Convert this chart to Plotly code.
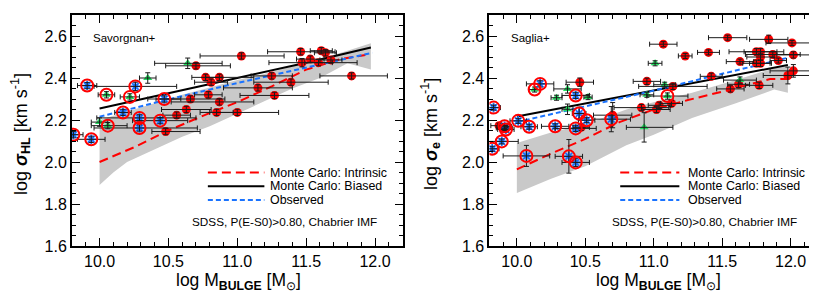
import plotly.graph_objects as go

# ---------------- LEFT PANEL (Savorgnan+) ----------------
L_red_x = [11.03, 10.70, 10.77, 10.87, 10.81, 10.66, 10.79, 10.87, 10.56, 10.63, 10.85, 11.00, 10.48,
           11.15, 11.25, 11.27, 11.39, 11.46, 11.47, 11.53, 11.61, 11.64, 11.59, 11.68, 11.83]
L_red_y = [2.505, 2.458, 2.403, 2.403, 2.380, 2.300, 2.320, 2.286, 2.223, 2.250, 2.236, 2.236, 2.145,
           2.353, 2.410, 2.317, 2.380, 2.525, 2.473, 2.490, 2.530, 2.520, 2.473, 2.486, 2.410]
L_red_xm = [0.30, 0.22, 0.10, 0.10, 0.12, 0.25, 0.10, 0.35, 0.10, 0.18, 0.12, 0.20, 0.10,
            0.25, 0.15, 0.25, 0.27, 0.24, 0.24, 0.10, 0.08, 0.08, 0.10, 0.08, 0.23]
L_red_xp = [0.31, 0.25, 0.12, 0.25, 0.12, 0.25, 0.10, 0.25, 0.10, 0.18, 0.12, 0.30, 0.25,
            0.25, 0.15, 0.25, 0.27, 0.25, 0.40, 0.10, 0.08, 0.08, 0.10, 0.08, 0.26]
L_red_ye = [0.015, 0.015, 0.015, 0.015, 0.015, 0.015, 0.015, 0.015, 0.015, 0.015, 0.015, 0.015, 0.015,
            0.015, 0.015, 0.015, 0.015, 0.015, 0.020, 0.015, 0.015, 0.015, 0.015, 0.015, 0.015]

L_blue_x = [9.91, 10.26, 10.47, 10.17, 10.29, 10.44, 10.29, 9.94, 9.81]
L_blue_y = [2.364, 2.360, 2.300, 2.236, 2.210, 2.197, 2.162, 2.108, 2.130]
L_blue_xm = [0.07, 0.30, 0.12, 0.06, 0.31, 0.20, 0.33, 0.10, 0.07]
L_blue_xp = [0.07, 0.30, 0.12, 0.06, 0.41, 0.20, 0.42, 0.10, 0.07]
L_blue_ye = [0.015, 0.020, 0.015, 0.015, 0.015, 0.015, 0.015, 0.015, 0.015]

L_green_x = [10.64, 10.35, 10.00, 10.05, 10.22, 10.06]
L_green_y = [2.470, 2.400, 2.190, 2.320, 2.310, 2.173]
L_green_xm = [0.24, 0.06, 0.06, 0.06, 0.07, 0.12]
L_green_xp = [0.25, 0.06, 0.06, 0.06, 0.07, 0.14]
L_green_ye = [0.025, 0.025, 0.020, 0.015, 0.015, 0.015]
L_green_ring = [False, False, False, True, True, True]

L_biased_x = [10.0, 10.5, 11.0, 11.5, 11.97]
L_biased_y = [2.255, 2.326, 2.400, 2.473, 2.545]
L_obs_x = [10.0, 10.5, 11.0, 11.5, 11.98]
L_obs_y = [2.216, 2.298, 2.376, 2.450, 2.520]
L_intr_x = [10.0, 10.25, 10.5, 10.75, 11.0, 11.25, 11.5, 11.75, 11.93]
L_intr_y = [2.00, 2.07, 2.15, 2.22, 2.285, 2.36, 2.44, 2.49, 2.51]
L_band_x = [10.0, 10.1, 10.2, 10.4, 10.6, 10.8, 11.0, 11.2, 11.4, 11.6, 11.8, 11.97]
L_band_hi = [2.20, 2.22, 2.24, 2.28, 2.32, 2.355, 2.39, 2.42, 2.455, 2.49, 2.53, 2.565]
L_band_lo = [1.89, 1.95, 2.00, 2.06, 2.12, 2.17, 2.23, 2.29, 2.35, 2.40, 2.47, 2.44]

# ---------------- RIGHT PANEL (Saglia+) ----------------
R_red_x = [11.54, 11.07, 11.23, 11.40, 11.84, 12.01, 11.75, 11.78, 11.78, 11.87, 12.02, 11.63, 11.75,
           11.78, 11.91, 10.95, 11.42, 12.02, 11.98, 11.14, 11.04, 11.02, 11.13, 10.91, 11.56, 11.77,
           11.62, 10.46, 10.70, 10.47, 9.87, 9.91]
R_red_y = [2.592, 2.561, 2.505, 2.522, 2.584, 2.567, 2.525, 2.525, 2.500, 2.512, 2.510, 2.478, 2.470,
           2.470, 2.483, 2.384, 2.408, 2.434, 2.412, 2.360, 2.270, 2.250, 2.279, 2.259, 2.348, 2.365,
           2.370, 2.380, 2.223, 2.165, 2.173, 2.162]
R_red_xe = [0.14, 0.10, 0.05, 0.08, 0.14, 0.19, 0.20, 0.12, 0.10, 0.20, 0.12, 0.10, 0.10,
            0.08, 0.06, 0.10, 0.08, 0.17, 0.18, 0.25, 0.08, 0.10, 0.08, 0.20, 0.10, 0.10,
            0.08, 0.10, 0.14, 0.06, 0.06, 0.06]
R_red_ye = [0.012, 0.012, 0.012, 0.012, 0.020, 0.012, 0.015, 0.015, 0.015, 0.015, 0.015, 0.012, 0.015,
            0.015, 0.012, 0.015, 0.015, 0.030, 0.040, 0.015, 0.015, 0.015, 0.015, 0.015, 0.015, 0.015,
            0.015, 0.020, 0.060, 0.015, 0.012, 0.012]

R_blue_x = [9.83, 9.82, 9.91, 9.92, 9.89, 10.01, 10.09, 10.07, 10.17, 10.43, 10.28, 10.455, 10.43,
            10.51, 10.38, 10.43, 10.69]
R_blue_y = [2.259, 2.063, 2.170, 2.155, 2.098, 2.196, 2.168, 2.029, 2.372, 2.317, 2.170, 2.231, 2.160,
            2.199, 2.027, 1.998, 2.204]
R_blue_xe = [0.05, 0.05, 0.05, 0.06, 0.12, 0.06, 0.06, 0.17, 0.10, 0.10, 0.10, 0.05, 0.15,
             0.06, 0.10, 0.10, 0.14]
R_blue_ye = [0.012, 0.012, 0.012, 0.012, 0.012, 0.012, 0.012, 0.050, 0.015, 0.015, 0.012, 0.030, 0.015,
             0.012, 0.080, 0.020, 0.060]

R_green_x = [10.13, 10.29, 10.37, 10.37, 10.52, 11.01, 11.08, 10.93, 10.95, 11.63, 11.10]
R_green_y = [2.345, 2.306, 2.348, 2.251, 2.309, 2.470, 2.368, 2.165, 2.320, 2.390, 2.314]
R_green_xm = [0.04, 0.04, 0.10, 0.04, 0.03, 0.05, 0.08, 0.13, 0.05, 0.12, 0.15]
R_green_xp = [0.04, 0.04, 0.10, 0.04, 0.03, 0.05, 0.08, 0.21, 0.05, 0.12, 0.15]
R_green_ye = [0.012, 0.012, 0.020, 0.025, 0.012, 0.012, 0.012, 0.070, 0.012, 0.015, 0.015]
R_green_ring = [True, False, False, False, False, False, False, False, False, False, True]

R_biased_x = [10.0, 10.5, 11.0, 11.5, 11.98]
R_biased_y = [2.217, 2.279, 2.341, 2.403, 2.462]
R_obs_x = [10.0, 10.5, 11.0, 11.5, 11.99]
R_obs_y = [2.190, 2.265, 2.340, 2.420, 2.498]
R_intr_x = [10.0, 10.25, 10.5, 10.75, 11.0, 11.25, 11.5, 11.7, 11.85, 11.99]
R_intr_y = [1.965, 2.04, 2.11, 2.19, 2.25, 2.295, 2.335, 2.37, 2.395, 2.395]
R_band_x = [10.0, 10.25, 10.5, 10.8, 11.0, 11.28, 11.6, 11.88, 11.98]
R_band_hi = [2.09, 2.14, 2.18, 2.25, 2.285, 2.33, 2.39, 2.447, 2.455]
R_band_lo = [1.852, 1.92, 1.98, 2.08, 2.13, 2.21, 2.28, 2.345, 2.33]

# ---------------- labels ----------------
X_TITLE = "log M<sub><b>BULGE</b></sub> [M<sub>⊙</sub>]"
Y_TITLES = ["log <b><i>σ</i></b><sub><b>HL</b></sub> [km s<sup>-1</sup>]",
            "log <b><i>σ</i></b><sub><b>e</b></sub> [km s<sup>-1</sup>]"]
PANEL_NAMES = ["Savorgnan+", "Saglia+"]
NOTE = "SDSS, P(E-S0)>0.80, Chabrier IMF"
LEG_NAMES = ["Monte Carlo: Intrinsic", "Monte Carlo: Biased", "Observed"]

RED = "#ff0000"
BLUE = "#1a73ff"
GREEN = "#22e060"
ERRC = "#1a1a1a"
FONT = "Liberation Sans, Arial, sans-serif"

fig = go.Figure()


def add_panel(xa, ya, band_x, band_hi, band_lo, intr_x, intr_y, bia_x, bia_y, obs_x, obs_y,
              red, blue, green, green_ring):
    fig.add_trace(go.Scatter(x=band_x + band_x[::-1], y=band_hi + band_lo[::-1], fill="toself",
                             fillcolor="#c9c9c9", line=dict(width=0), mode="lines",
                             hoverinfo="skip", showlegend=False, xaxis=xa, yaxis=ya))
    fig.add_trace(go.Scatter(x=intr_x, y=intr_y, mode="lines", line=dict(color=RED, width=2, dash="9px,5px"),
                             showlegend=False, xaxis=xa, yaxis=ya))
    fig.add_trace(go.Scatter(x=bia_x, y=bia_y, mode="lines", line=dict(color="black", width=2),
                             showlegend=False, xaxis=xa, yaxis=ya))
    fig.add_trace(go.Scatter(x=obs_x, y=obs_y, mode="lines", line=dict(color=BLUE, width=2, dash="5px,3px"),
                             showlegend=False, xaxis=xa, yaxis=ya))

    def err(xm, xp, ye):
        return (dict(type="data", symmetric=False, array=xp, arrayminus=xm, color=ERRC, thickness=1, width=2.5),
                dict(type="data", array=ye, color=ERRC, thickness=1, width=2.5))

    rx, ry, rxm, rxp, rye = red
    bx, by, bxm, bxp, bye = blue
    gx, gy, gxm, gxp, gye = green
    fig.add_trace(go.Scatter(x=rx, y=ry, mode="markers", marker=dict(color=RED, size=9, line=dict(width=0)),
                             showlegend=False, xaxis=xa, yaxis=ya, cliponaxis=True))
    fig.add_trace(go.Scatter(x=gx, y=gy, mode="markers",
                             marker=dict(color=GREEN, size=8, symbol="triangle-up", line=dict(width=0)),
                             showlegend=False, xaxis=xa, yaxis=ya, cliponaxis=True))
    fig.add_trace(go.Scatter(x=bx, y=by, mode="markers",
                             marker=dict(color=BLUE, size=8, symbol="asterisk-open", line=dict(color=BLUE, width=1.8)),
                             showlegend=False, xaxis=xa, yaxis=ya, cliponaxis=True))
    for (x, y, xm, xp, ye) in [red, green, blue]:
        ex, ey = err(xm, xp, ye)
        fig.add_trace(go.Scatter(x=x, y=y, mode="markers", marker=dict(size=1, opacity=0),
                                 error_x=ex, error_y=ey, showlegend=False, xaxis=xa, yaxis=ya,
                                 cliponaxis=True, hoverinfo="skip"))
    ring_x = list(bx) + [g for g, f in zip(gx, green_ring) if f]
    ring_y = list(by) + [g for g, f in zip(gy, green_ring) if f]
    fig.add_trace(go.Scatter(x=ring_x, y=ring_y, mode="markers",
                             marker=dict(symbol="circle-open", size=12, color=RED, line=dict(color=RED, width=2)),
                             showlegend=False, xaxis=xa, yaxis=ya, cliponaxis=True))


add_panel("x", "y", L_band_x, L_band_hi, L_band_lo, L_intr_x, L_intr_y, L_biased_x, L_biased_y,
          L_obs_x, L_obs_y,
          (L_red_x, L_red_y, L_red_xm, L_red_xp, L_red_ye),
          (L_blue_x, L_blue_y, L_blue_xm, L_blue_xp, L_blue_ye),
          (L_green_x, L_green_y, L_green_xm, L_green_xp, L_green_ye), L_green_ring)
add_panel("x2", "y2", R_band_x, R_band_hi, R_band_lo, R_intr_x, R_intr_y, R_biased_x, R_biased_y,
          R_obs_x, R_obs_y,
          (R_red_x, R_red_y, R_red_xe, R_red_xe, R_red_ye),
          (R_blue_x, R_blue_y, R_blue_xe, R_blue_xe, R_blue_ye),
          (R_green_x, R_green_y, R_green_xm, R_green_xp, R_green_ye), R_green_ring)

common = dict(showline=True, linewidth=2, linecolor="black", mirror="allticks", ticks="inside",
              ticklen=8, tickwidth=1.3, tickcolor="black", showgrid=False, zeroline=False,
              tickfont=dict(family=FONT, size=16, color="black"), tickformat=".1f")
xcommon = dict(common, range=[9.8, 12.2], tick0=10.0, dtick=0.5,
               minor=dict(ticks="inside", ticklen=4, tickwidth=1, tickcolor="black", dtick=0.1, showgrid=False))
ycommon = dict(common, range=[1.6, 2.7], tick0=1.6, dtick=0.2,
               minor=dict(ticks="inside", ticklen=4, tickwidth=1, tickcolor="black", dtick=0.05, showgrid=False))

fig.update_layout(
    width=817, height=292,
    margin=dict(l=64, r=6, t=5, b=54),
    paper_bgcolor="white", plot_bgcolor="white",
    showlegend=False,
    xaxis=dict(xcommon, domain=[0, 0.4431], anchor="y"),
    yaxis=dict(ycommon, domain=[0, 1], anchor="x"),
    xaxis2=dict(xcommon, domain=[0.5596, 1.0], anchor="y2"),
    yaxis2=dict(ycommon, domain=[0, 1], anchor="x2"),
    font=dict(family=FONT, color="black"),
)

ann = []
shapes = []
for xc in (0.2233, 0.7856):
    ann.append(dict(text=X_TITLE, x=xc, y=-0.155, xref="paper", yref="paper", showarrow=False,
                    font=dict(size=17.5, family=FONT), xanchor="center", yanchor="middle"))
ann.append(dict(text=Y_TITLES[0], x=-0.0683, y=0.485, xref="paper", yref="paper", showarrow=False,
                textangle=-90, font=dict(size=18, family=FONT), xanchor="center", yanchor="middle"))
ann.append(dict(text=Y_TITLES[1], x=0.4813, y=0.485, xref="paper", yref="paper", showarrow=False,
                textangle=-90, font=dict(size=18, family=FONT), xanchor="center", yanchor="middle"))

leg_styles = [dict(color=RED, width=2, dash="9px,5px"), dict(color="black", width=2),
              dict(color=BLUE, width=2, dash="5px,3px")]
leg_rows = [0.318, 0.259, 0.199]
for xa, ya, name, lx0, lx1, tx, nx in [("x", "y", PANEL_NAMES[0], 0.411, 0.582, 0.592, 0.930),
                                       ("x2", "y2", PANEL_NAMES[1], 0.398, 0.578, 0.597, 0.942)]:
    xd, yd = xa + " domain", ya + " domain"
    ann.append(dict(text=name, x=0.058, y=0.90, xref=xd, yref=yd, showarrow=False,
                    xanchor="left", yanchor="middle", font=dict(size=11.5, family=FONT)))
    ann.append(dict(text=NOTE, x=nx, y=0.106, xref=xd, yref=yd, showarrow=False,
                    xanchor="right", yanchor="middle", font=dict(size=11.75, family=FONT)))
    for st, ry, nm in zip(leg_styles, leg_rows, LEG_NAMES):
        shapes.append(dict(type="line", xref=xd, yref=yd, x0=lx0, x1=lx1, y0=ry, y1=ry, line=st))
        ann.append(dict(text=nm, x=tx, y=ry, xref=xd, yref=yd, showarrow=False,
                        xanchor="left", yanchor="middle", font=dict(size=12.4, family=FONT)))

fig.update_layout(annotations=ann, shapes=shapes)
fig.write_html("out.html")
